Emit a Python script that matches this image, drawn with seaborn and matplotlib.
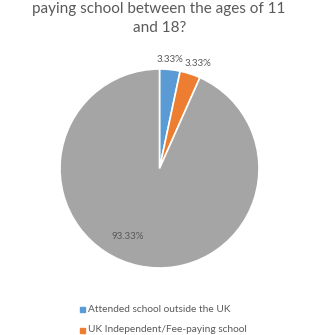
import matplotlib
matplotlib.use("Agg")
import matplotlib.pyplot as plt
import seaborn as sns

sns.set_theme(style="white")
plt.rcParams['font.family'] = ['Lato', 'DejaVu Sans']

categories = ["Attended school outside the UK", "UK Independent/Fee-paying school", "Other"]
values = [3.33, 3.33, 93.33]
labels = ["3.33%", "3.33%", "93.33%"]
colors = ["#5B9BD5", "#ED7D31", "#A5A5A5"]
title_lines = ["paying school between the ages of 11", "and 18?"]

W = H = 335
fig = plt.figure(figsize=(W / 100, H / 100), dpi=100)
fig.patch.set_facecolor("white")

ax = fig.add_axes([60 / W, 67 / H, 199 / W, 199 / H])
wedges, _ = ax.pie(values, colors=colors, startangle=90, counterclock=False,
                   wedgeprops=dict(edgecolor="white", linewidth=1.2))
ax.set_xlim(-1, 1)
ax.set_ylim(-1, 1)
ax.set_aspect("equal")
ax.axis("off")

label_pos = [(0.105, 1.10), (0.39, 1.06), (-0.32, -0.68)]
for (x, y), t in zip(label_pos, labels):
    ax.text(x, y, t, ha="center", va="center", fontsize=7, color="#595959")

fig.text(159 / W, 1 - 9 / H, title_lines[0], ha="center", va="center", fontsize=11, color="#595959")
fig.text(160 / W, 1 - 28 / H, title_lines[1], ha="center", va="center", fontsize=11, color="#595959")

for i, (cat, col) in enumerate(zip(categories[:2], colors[:2])):
    y = 1 - (309 + 21 * i) / H
    fig.patches.append(plt.Rectangle((80 / W, y - 2.5 / H), 5 / W, 5 / H,
                                     transform=fig.transFigure, color=col, figure=fig))
    fig.text(88 / W, y, cat, ha="left", va="center", fontsize=7.25, color="#595959")

fig.savefig("out.png", dpi=100, facecolor="white")
